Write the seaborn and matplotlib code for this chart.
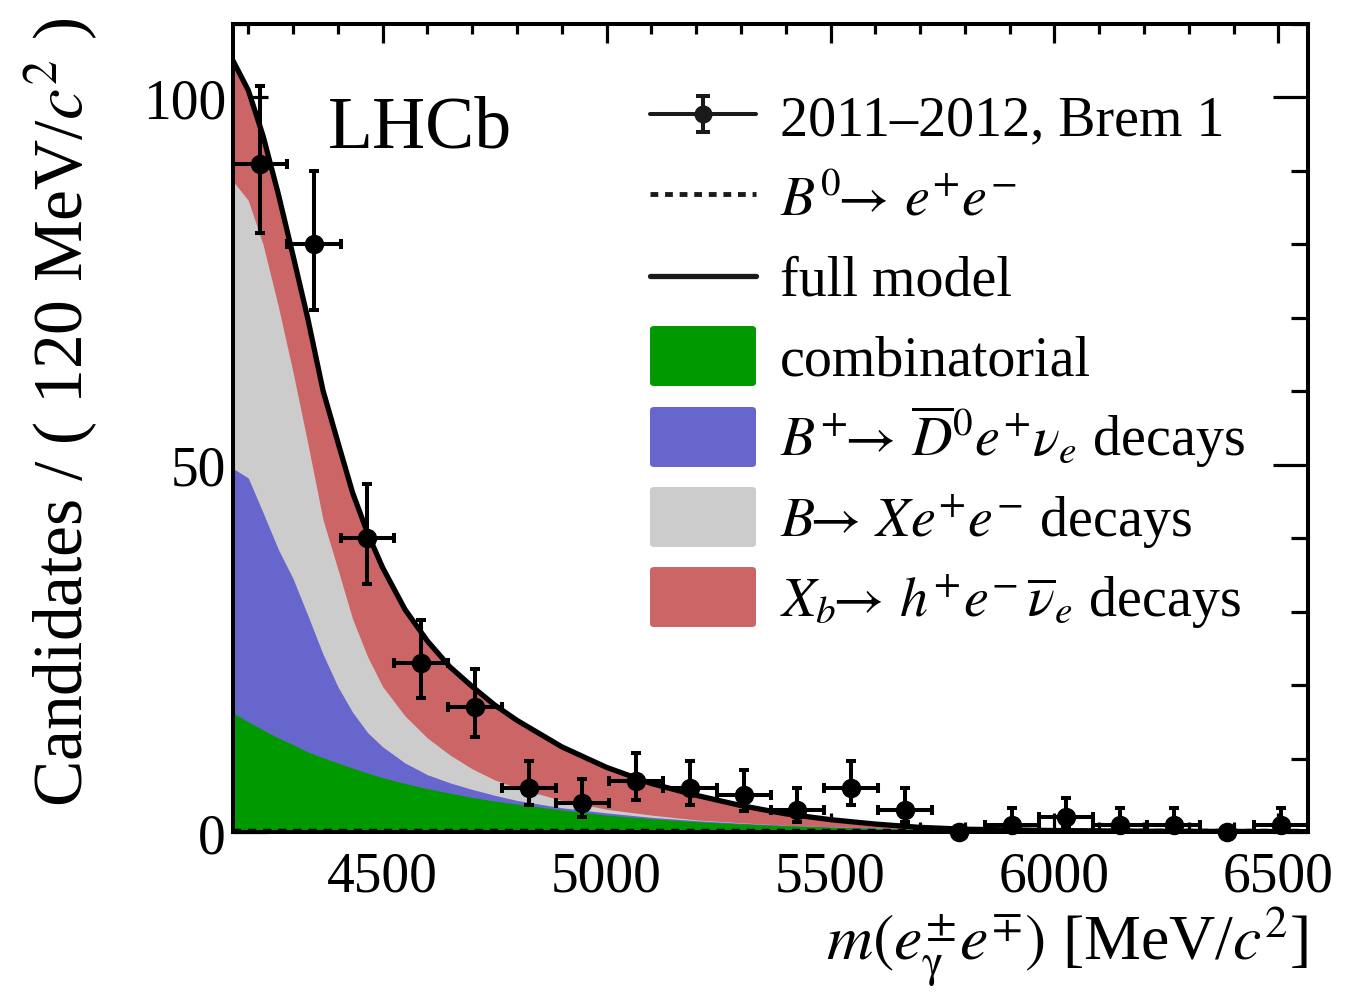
import numpy as np
import pandas as pd
import seaborn as sns
import matplotlib
matplotlib.use("Agg")
import matplotlib.pyplot as plt
from matplotlib.lines import Line2D
from matplotlib.patches import FancyBboxPatch
from matplotlib.ticker import MultipleLocator

# ---------------- data ----------------
bin_centers = [4226, 4346, 4466, 4586, 4706, 4826, 4946, 5066, 5186, 5306,
               5426, 5546, 5666, 5786, 5906, 6026, 6146, 6266, 6386, 6506]
counts = [91, 80, 40, 23, 17, 6, 4, 7, 6, 5, 3, 6, 3, 0, 1, 2, 1, 1, 0, 1]
bin_half_width = 60

# model components sampled along the mass axis (candidates / 120 MeV)
mass = [4166, 4200, 4233, 4267, 4300, 4333, 4367, 4400, 4433, 4467, 4500, 4550,
        4600, 4650, 4700, 4750, 4800, 4900, 5000, 5100, 5200, 5300, 5400, 5500,
        5600, 5700, 5800, 6000, 6200, 6566]
combinatorial = [16.2, 15.0, 13.9, 12.8, 11.9, 10.9, 10.1, 9.4, 8.7, 8.0, 7.4, 6.6,
                 5.9, 5.3, 4.7, 4.2, 3.8, 3.0, 2.3, 1.8, 1.4, 1.1, 0.85, 0.65,
                 0.50, 0.38, 0.29, 0.17, 0.10, 0.04]
b_to_d_e_nu = [33.3, 33.2, 29.6, 25.7, 22.6, 18.6, 14.1, 10.4, 7.6, 5.5, 4.2, 2.8,
               1.9, 1.4, 1.1, 0.8, 0.5, 0.3, 0.3, 0.2, 0.15, 0.10, 0.07, 0.05,
               0.03, 0.02, 0.02, 0.01, 0.0, 0.0]
b_to_x_ee = [39.1, 37.8, 36.5, 33.1, 28.1, 23.4, 18.3, 16.0, 12.7, 10.3, 8.2, 6.4,
             5.0, 3.8, 2.8, 2.1, 1.7, 1.0, 0.5, 0.3, 0.1, 0.05, 0.0, 0.0,
             0.0, 0.0, 0.0, 0.0, 0.0, 0.0]
xb_to_h_e_nu = [16.4, 15.0, 14.8, 15.3, 15.9, 17.0, 17.6, 17.3, 17.2, 16.8, 16.2, 14.5,
                13.2, 12.0, 11.2, 10.2, 9.2, 7.3, 5.7, 4.3, 3.35, 2.35, 1.55, 0.98,
                0.55, 0.23, 0.07, 0.02, 0.01, 0.01]
signal_b0_ee = [0.2, 0.2, 0.2, 0.2, 0.2, 0.2, 0.2, 0.2, 0.2, 0.2, 0.2, 0.2,
                0.2, 0.2, 0.2, 0.2, 0.2, 0.2, 0.2, 0.2, 0.2, 0.2, 0.2, 0.2,
                0.2, 0.2, 0.2, 0.2, 0.2, 0.2]

x_ticks = [4500, 5000, 5500, 6000, 6500]
y_ticks = [0, 50, 100]

legend_labels = ["2011\u20132012, Brem 1",
                 r"$B^0\!\!\rightarrow\, e^{+}e^{-}$",
                 "full model",
                 "combinatorial",
                 r"$B^{+}\!\!\rightarrow\, \overline{D}{}^{0} e^{+}\nu_{e}$ decays",
                 r"$B\!\!\rightarrow\, X e^{+}e^{-}$ decays",
                 r"$X_{b}\!\!\rightarrow\, h^{+}e^{-}\,\overline{\nu}_{e}$ decays"]

colors = {"comb": "#009900", "dlnu": "#6666cc", "xee": "#cccccc", "hlnu": "#cc6666"}

# ---------------- style ----------------
sns.set_theme(style="ticks")
plt.rcParams["font.family"] = ["Liberation Serif", "DejaVu Serif"]
plt.rcParams["mathtext.fontset"] = "stix"
plt.rcParams["axes.linewidth"] = 2.9
for k in ["text.color", "axes.labelcolor", "xtick.color", "ytick.color", "axes.edgecolor"]:
    plt.rcParams[k] = "black"

FS_TICK = 40
FS_LEG = 40.3

fig = plt.figure(figsize=(13.58, 9.95), dpi=100)
ax = fig.add_axes([233 / 1358, 1 - 833 / 995, 1075 / 1358, 808 / 995])

model = pd.DataFrame({
    "mass": mass,
    "comb": combinatorial,
    "dlnu": b_to_d_e_nu,
    "xee": b_to_x_ee,
    "hlnu": xb_to_h_e_nu,
    "sig": signal_b0_ee,
})
model["top_comb"] = model["comb"]
model["top_dlnu"] = model["top_comb"] + model["dlnu"]
model["top_xee"] = model["top_dlnu"] + model["xee"]
model["top_hlnu"] = model["top_xee"] + model["hlnu"]
model["full"] = model["top_hlnu"]

# stacked areas (drawn from the top down so there are no seams)
for key in ["hlnu", "xee", "dlnu", "comb"]:
    ax.fill_between(model["mass"], 0, model["top_" + key], color=colors[key], lw=0, zorder=2)

# B0 -> ee signal (dashed)
sns.lineplot(data=model, x="mass", y="sig", ax=ax, color="black", lw=3.2,
             linestyle=(0, (1.8, 1.6)), zorder=4, clip_on=False)
# full model
sns.lineplot(data=model, x="mass", y="full", ax=ax, color="black", lw=3.8, zorder=5)

# data with Poisson (Gehrels) errors
n = np.array(counts, dtype=float)
xc = np.array(bin_centers, dtype=float)
nz = n > 0
upper = n[nz] + 1 + np.sqrt(n[nz] + 0.75)
lower = n[nz] * (1 - 1 / (9 * n[nz]) - 1 / (3 * np.sqrt(n[nz]))) ** 3
ax.errorbar(xc[nz], n[nz], yerr=[n[nz] - lower, upper - n[nz]], xerr=bin_half_width,
            fmt="o", color="black", ms=13, elinewidth=2.9, capsize=3.4, capthick=2.9,
            zorder=10, clip_on=False)
sns.scatterplot(x=xc[~nz], y=n[~nz], ax=ax, color="black", s=170, zorder=10,
                edgecolor="black", clip_on=False, legend=False)

# axes
ax.set_xlim(4166, 6566)
ax.set_ylim(0, 110)
ax.set_xticks(x_ticks)
ax.set_yticks(y_ticks)
ax.xaxis.set_minor_locator(MultipleLocator(100))
ax.yaxis.set_minor_locator(MultipleLocator(10))
ax.tick_params(which="both", direction="in", top=True, right=True, width=2.3,
               labelsize=FS_TICK, color="black", labelcolor="black")
ax.tick_params(axis="y", which="major", length=25, pad=5)
ax.tick_params(axis="y", which="minor", length=12)
ax.tick_params(axis="x", which="major", length=14, pad=13)
ax.tick_params(axis="x", which="minor", length=7)
ax.set_xlabel("")
ax.set_ylabel("")
for s in ax.spines.values():
    s.set_zorder(20)

fig.text(1308 / 1358, 1 - 960 / 995, r"$m(e^{\pm}_{\mathrm{\gamma}}e^{\mp})$ [MeV/$c^{2}$]",
         ha="right", va="baseline", fontsize=46)
fig.text(100 / 1358, 1 - 18 / 995, r"Candidates / ( 120 MeV/$c^{2}$ )",
         rotation=90, ha="right", va="top", fontsize=50)

ax.text((328 - 233) / 1075, (833 - 148) / 808, "LHCb", transform=ax.transAxes,
        fontsize=53, ha="left", va="baseline")

# ---------------- legend (manual, axes coordinates) ----------------
def fx(px):
    return (px - 233) / 1075

def fy(py):
    return (833 - py) / 808

sym_l, sym_r, txt_x = 650, 756, 780
base0, pitch = 135, 80.3
centers = [115, 195, 277, 357, 438, 518, 598]
tr = ax.transAxes

cy = centers[0]
ax.add_line(Line2D([fx(sym_l), fx(sym_r)], [fy(cy), fy(cy)], transform=tr, color="k", lw=2.9, zorder=30))
ax.add_line(Line2D([fx(703), fx(703)], [fy(cy - 18), fy(cy + 18)], transform=tr, color="k", lw=2.9, zorder=30))
ax.add_line(Line2D([fx(703)], [fy(cy - 18)], transform=tr, color="k", marker="_", ms=10, mew=2.9, zorder=30))
ax.add_line(Line2D([fx(703)], [fy(cy + 18)], transform=tr, color="k", marker="_", ms=10, mew=2.9, zorder=30))
ax.add_line(Line2D([fx(703)], [fy(cy)], transform=tr, color="k", marker="o", ms=12, zorder=31))
ax.add_line(Line2D([fx(sym_l), fx(sym_r)], [fy(centers[1])] * 2, transform=tr, color="k", lw=3.5,
                   linestyle=(0, (1.6, 1.4)), zorder=30))
ax.add_line(Line2D([fx(sym_l), fx(sym_r)], [fy(centers[2])] * 2, transform=tr, color="k", lw=3.8, zorder=30))
for i, key in zip(range(3, 7), ["comb", "dlnu", "xee", "hlnu"]):
    c = centers[i]
    ax.add_patch(FancyBboxPatch((fx(sym_l), fy(c + 30)), fx(sym_r) - fx(sym_l),
                                fy(c - 30) - fy(c + 30), boxstyle="round,pad=0,rounding_size=0.004",
                                transform=tr, facecolor=colors[key], edgecolor="none", zorder=30))

for i, lab in enumerate(legend_labels):
    ax.text(fx(txt_x), fy(base0 + i * pitch), lab, transform=tr, fontsize=FS_LEG,
            ha="left", va="baseline", zorder=31)

fig.savefig("out.png", dpi=100)
